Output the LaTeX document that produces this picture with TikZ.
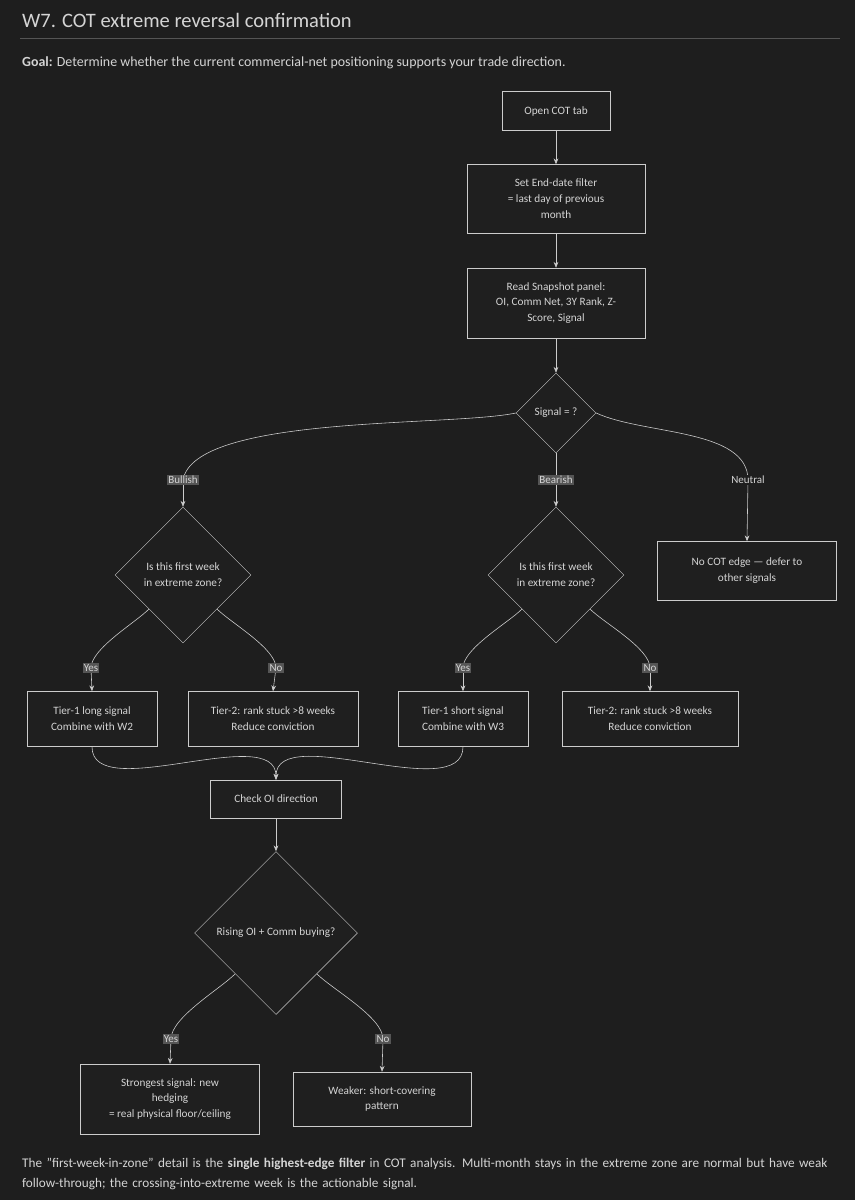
\documentclass[tikz,border=0pt]{standalone}
\usepackage{fontspec}
\setmainfont{Carlito}
\usetikzlibrary{arrows.meta,shapes.geometric}
\definecolor{bgc}{HTML}{1E1E1E}
\definecolor{nodefill}{HTML}{1F1F1F}
\definecolor{edgec}{HTML}{CCCCCC}
\definecolor{txtc}{HTML}{D4D4D4}
\definecolor{lblfill}{HTML}{555555}
\tikzset{
  box/.style={draw=edgec, fill=nodefill, text=txtc, align=center, font=\fontsize{9.6}{13.6}\selectfont, inner sep=0pt},
  decide/.style={diamond, draw=edgec, fill=nodefill, text=txtc, align=center, font=\fontsize{9.6}{13.6}\selectfont, inner sep=0pt, aspect=1},
  lbl/.style={fill=lblfill, text=txtc, font=\fontsize{9.4}{11}\selectfont, inner sep=1pt},
  flow/.style={draw=edgec, line width=0.5pt, -{Stealth[length=5pt,width=4pt]}},
  plain/.style={draw=edgec, line width=0.5pt}
}
\begin{document}
\begin{tikzpicture}[x=0.03cm, y=-0.03cm]
\fill[bgc] (0,0) rectangle (855,1200);
\useasboundingbox (0,0) rectangle (855,1200);

\node[anchor=west, text=txtc, font=\fontsize{17.5}{20}\selectfont] (title) at (18,20) {W7. COT extreme reversal confirmation};
\draw[lblfill] (20,38) -- (840,38);
\node[anchor=west, text=txtc, font=\fontsize{11.9}{14}\selectfont] (goal) at (18,63) {\textbf{Goal:} Determine whether the current commercial-net positioning supports your trade direction.};

% main column
\node[box, minimum width=108*0.03cm, minimum height=39*0.03cm] (open) at (556,111) {Open COT tab};
\node[box, minimum width=178*0.03cm, minimum height=69*0.03cm] (setend) at (556,199) {Set End-date filter\\= last day of previous\\month};
\node[box, minimum width=178*0.03cm, minimum height=70*0.03cm] (snap) at (556,303) {Read Snapshot panel:\\OI, Comm Net, 3Y Rank, Z-\\Score, Signal};
\node[decide, minimum size=80*0.03cm] (sig) at (556,413) {Signal = ?};

% branches
\node[decide, minimum size=136*0.03cm] (firstL) at (183,575) {Is this first week\\in extreme zone?};
\node[decide, minimum size=136*0.03cm] (firstS) at (556,575) {Is this first week\\in extreme zone?};
\node[box, minimum width=179*0.03cm, minimum height=59*0.03cm] (noedge) at (747,571) {No COT edge — defer to\\other signals};

\node[box, minimum width=130*0.03cm, minimum height=55*0.03cm] (tierLong) at (92,719) {Tier-1 long signal\\Combine with W2};
\node[box, minimum width=170*0.03cm, minimum height=55*0.03cm] (stuckL) at (273,719) {Tier-2: rank stuck >8 weeks\\Reduce conviction};
\node[box, minimum width=130*0.03cm, minimum height=55*0.03cm] (tierShort) at (463,719) {Tier-1 short signal\\Combine with W3};
\node[box, minimum width=176*0.03cm, minimum height=55*0.03cm] (stuckS) at (650,719) {Tier-2: rank stuck >8 weeks\\Reduce conviction};

\node[box, minimum width=131*0.03cm, minimum height=38*0.03cm] (checkoi) at (276,799) {Check OI direction};
\node[decide, minimum size=163*0.03cm] (rising) at (276,933) {Rising OI + Comm buying?};
\node[box, minimum width=179*0.03cm, minimum height=70*0.03cm] (strong) at (170,1099) {Strongest signal: new\\hedging\\= real physical floor/ceiling};
\node[box, minimum width=178*0.03cm, minimum height=54*0.03cm] (weak) at (382,1099) {Weaker: short-covering\\pattern};

% edge label points
\coordinate (cBull) at (183,480);
\coordinate (cBear) at (556,480);
\coordinate (cNeut) at (748,480);
\coordinate (cYesL) at (91,668);
\coordinate (cNoL) at (276,668);
\coordinate (cYesS) at (463,668);
\coordinate (cNoS) at (650,668);
\coordinate (cYesR) at (171,1039);
\coordinate (cNoR) at (383,1039);

% connectors
\draw[flow] (open) -- (setend);
\draw[flow] (setend) -- (snap);
\draw[flow] (snap) -- (sig);
\draw[plain] (sig.west) to[out=-168,in=80,looseness=0.5] (cBull);
\draw[flow] (cBull) -- (firstL.north);
\draw[plain] (sig.south) -- (cBear);
\draw[flow] (cBear) -- (firstS.north);
\draw[plain] (sig.east) to[out=-25,in=90,looseness=0.8] (cNeut);
\draw[flow] (cNeut) -- (noedge.north);
\draw[plain] (firstL.south west) to[out=-135,in=90,looseness=0.6] (cYesL);
\draw[flow] (cYesL) -- (tierLong.north);
\draw[plain] (firstL.south east) to[out=-45,in=90,looseness=0.6] (cNoL);
\draw[flow] (cNoL) -- (stuckL.north);
\draw[plain] (firstS.south west) to[out=-135,in=90,looseness=0.6] (cYesS);
\draw[flow] (cYesS) -- (tierShort.north);
\draw[plain] (firstS.south east) to[out=-45,in=90,looseness=0.6] (cNoS);
\draw[flow] (cNoS) -- (stuckS.north);
\draw[flow] (tierLong.south) to[out=-90,in=90,looseness=0.8] (checkoi.north);
\draw[flow] (tierShort.south) to[out=-90,in=90,looseness=0.8] (checkoi.north);
\draw[flow] (checkoi) -- (rising);
\draw[plain] (rising.south west) to[out=-135,in=90,looseness=0.6] (cYesR);
\draw[flow] (cYesR) -- (strong.north);
\draw[plain] (rising.south east) to[out=-45,in=90,looseness=0.6] (cNoR);
\draw[flow] (cNoR) -- (weak.north);

% labels
\node[lbl] (lBull) at (cBull) {Bullish};
\node[lbl] (lBear) at (cBear) {Bearish};
\node[lbl, fill=bgc] (lNeut) at (cNeut) {Neutral};
\node[lbl] (lYesL) at (cYesL) {Yes};
\node[lbl] (lNoL) at (cNoL) {No};
\node[lbl] (lYesS) at (cYesS) {Yes};
\node[lbl] (lNoS) at (cNoS) {No};
\node[lbl] (lYesR) at (cYesR) {Yes};
\node[lbl] (lNoR) at (cNoR) {No};

\node[anchor=north west, text=txtc, text width=825*0.03cm, align=left, font=\fontsize{11.3}{17}\selectfont] (foot) at (18,1154) {The "first-week-in-zone" detail is the \textbf{single highest-edge filter} in COT analysis. Multi-month stays in the extreme zone are normal but have weak follow-through; the crossing-into-extreme week is the actionable signal.};
\end{tikzpicture}
\end{document}
